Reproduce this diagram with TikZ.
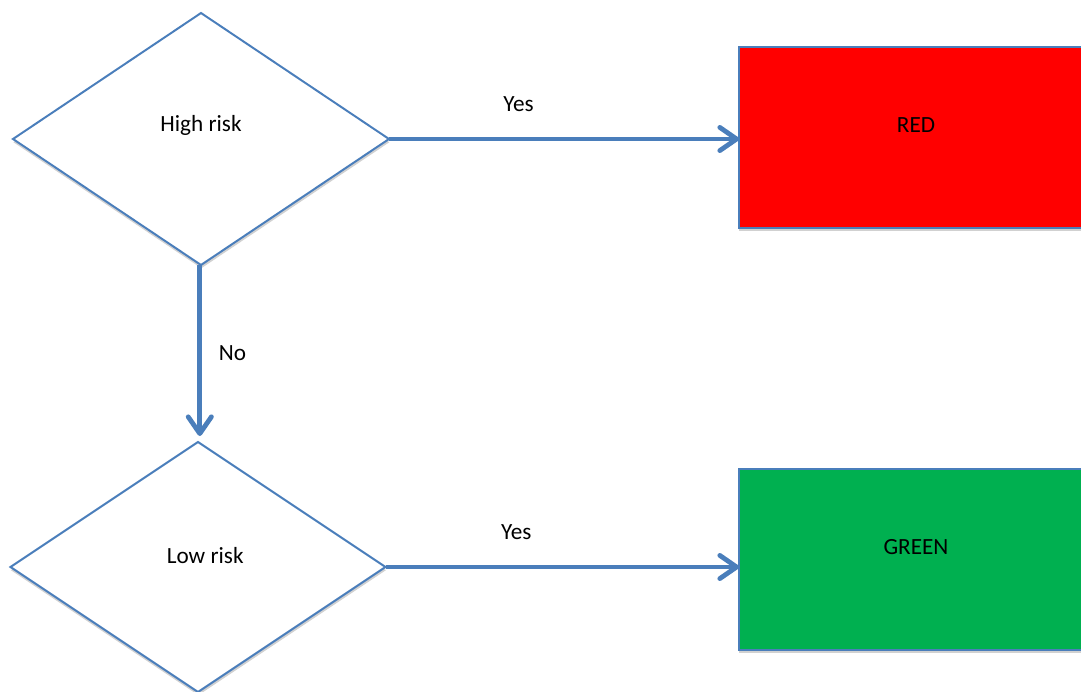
\documentclass[tikz,border=0pt]{standalone}
\usepackage[rgb]{xcolor}
\usepackage{fontspec}
\setmainfont{Carlito}
\usepackage{tikz}
\usetikzlibrary{shapes.geometric,arrows.meta,shadows}

\definecolor{lineblue}{HTML}{4A7EBB}
\definecolor{boxred}{HTML}{FF0000}
\definecolor{boxgreen}{HTML}{00B050}

\begin{document}
\begin{tikzpicture}[x=0.025cm, y=-0.025cm,
	font=\fontsize{16.5}{19}\selectfont,
	decision/.style={diamond, draw=lineblue, line width=1.4pt, fill=white,
		outer sep=0pt, inner sep=0pt,
		drop shadow={shadow xshift=0.01cm, shadow yshift=-0.08cm, fill=black!18, opacity=1}},
	outcome/.style={rectangle, draw=lineblue, line width=1.4pt, outer sep=0pt,
		minimum width=354*0.025cm, minimum height=181*0.025cm,
		drop shadow={shadow xshift=0cm, shadow yshift=-0.08cm, fill=black!18, opacity=1}},
	flow/.style={draw=lineblue, line width=3.4pt,
		-{Straight Barb[length=4.2mm, width=5.8mm, round]}},
	>=stealth]

	\useasboundingbox (0,0) rectangle (1081,692);

	% decisions
	\node[decision, minimum width=376*0.025cm, minimum height=252*0.025cm,
		label={[name=hightxt, yshift=0.35cm]center:High risk}] (high) at (201,139) {};
	\node[decision, minimum width=375*0.025cm, minimum height=250*0.025cm,
		label={[name=lowtxt, xshift=0.18cm, yshift=0.28cm]center:Low risk}] (low) at (198,567) {};

	% outcomes
	\node[outcome, fill=boxred,
		label={[name=redtxt, yshift=0.31cm]center:RED}] (red) at (916,137.5) {};
	\node[outcome, fill=boxgreen,
		label={[name=greentxt, yshift=0.31cm]center:GREEN}] (green) at (916,559.5) {};

	% connectors
	\draw[flow] (high.east) -- (high.east -| red.west) node[pos=0.37, above=0.5cm] (yes1) {Yes};
	\draw[flow, shorten >=0.15cm] ([xshift=-0.03cm]high.south) -- ([xshift=-0.03cm]high.south |- low.north)
		node[midway, right=0.3cm] (no) {No};
	\draw[flow] (low.east) -- (low.east -| green.west) node[pos=0.37, above=0.5cm] (yes2) {Yes};

\end{tikzpicture}
\end{document}
